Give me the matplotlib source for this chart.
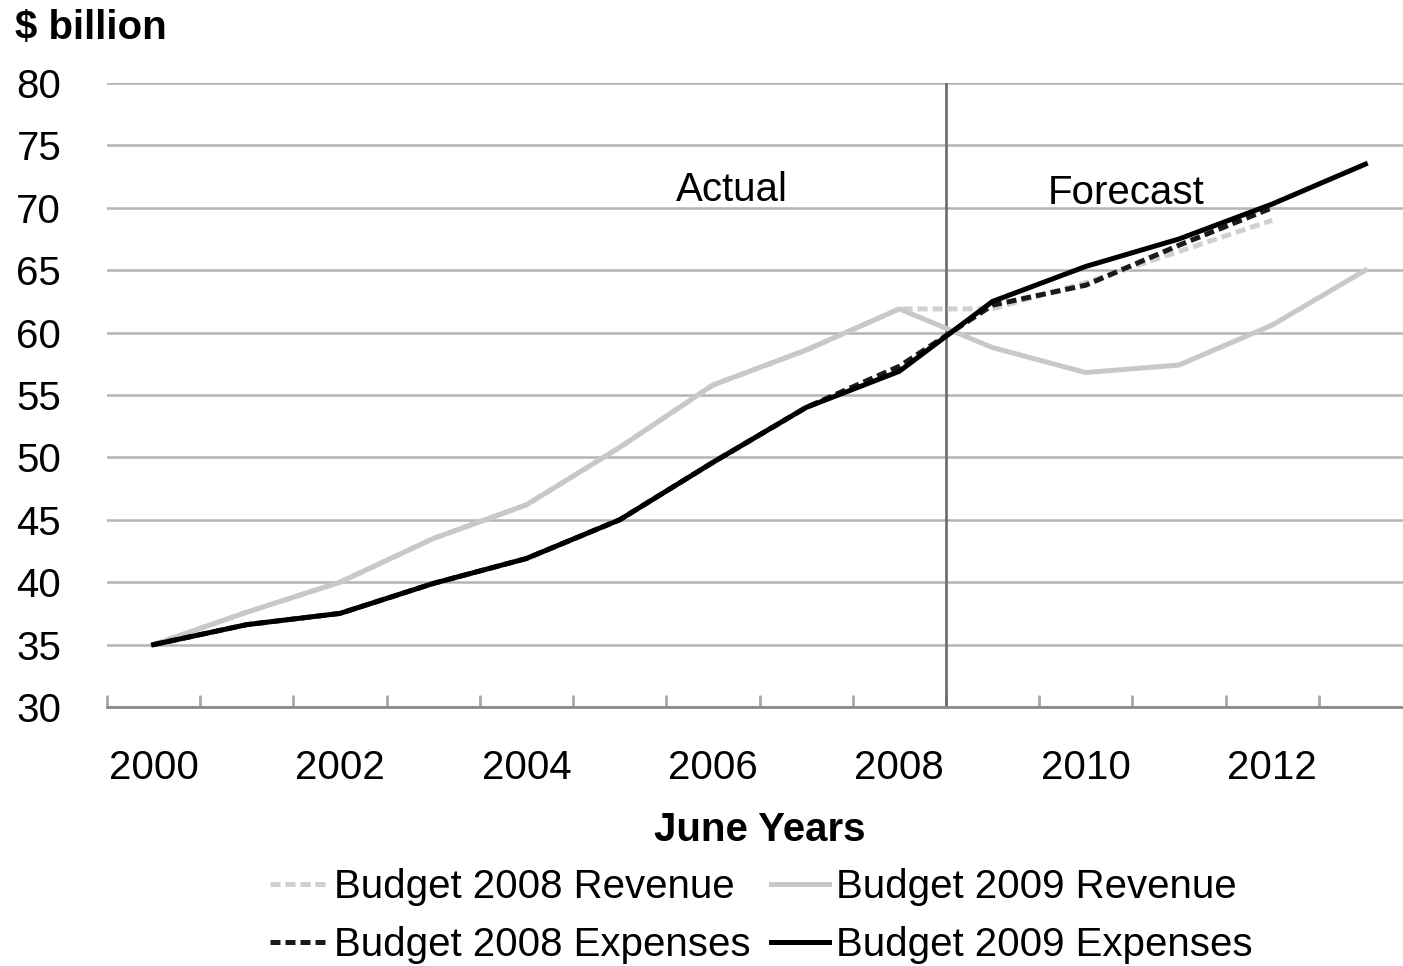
import matplotlib
matplotlib.use("Agg")
import matplotlib.pyplot as plt
import numpy as np

plt.rcParams['font.family'] = ['Liberation Sans', 'DejaVu Sans']

# June years shown on the category axis
years = list(range(2000, 2014))
tick_years = [2000, 2002, 2004, 2006, 2008, 2010, 2012]

# Budget 2009 series (actuals to 2008, forecast thereafter), $ billion
rev_2009 = [35.0, 37.6, 40.0, 43.5, 46.2, 50.8, 55.8, 58.6, 61.9,
            58.8, 56.8, 57.4, 60.6, 65.0]
exp_2009 = [35.0, 36.6, 37.5, 39.9, 41.9, 45.0, 49.6, 54.0, 56.9,
            62.5, 65.3, 67.5, 70.3, 73.5]

# Budget 2008 series (actuals to 2007, forecast to 2012), $ billion
years_2008 = list(range(2000, 2013))
rev_2008 = [35.0, 37.6, 40.0, 43.5, 46.2, 50.8, 55.8, 58.6, 61.9,
            61.9, 64.0, 66.5, 69.0]
exp_2008 = [35.0, 36.6, 37.5, 39.9, 41.9, 45.0, 49.6, 54.0, 57.3,
            62.2, 63.8, 67.0, 70.0]

boundary = 2008.5  # split between actual and forecast years

W, H = 1403, 966
fig = plt.figure(figsize=(W / 100, H / 100), dpi=100)
ax = fig.add_axes([107 / W, 1 - 707 / H, (1412 - 107) / W, (707 - 83) / H])

light = '#c8c8c8'
dark = '#000000'
lw = 3.6

ax.set_xlim(1999.5, 2013.5)
ax.set_ylim(30, 80)
ax.set_yticks(np.arange(30, 81, 5))
ax.grid(axis='y', color='#b4b4b4', linewidth=1.8, zorder=0)
ax.set_axisbelow(True)

ax.axvline(boundary, color='#6a6a6a', linewidth=1.9, zorder=1)

l_rev08, = ax.plot(years_2008, rev_2008, color='#d0d0d0', linewidth=lw,
                   linestyle=(0, (2, 1)), label='Budget 2008 Revenue',
                   zorder=2)
l_rev09, = ax.plot(years, rev_2009, color=light, linewidth=lw,
                   label='Budget 2009 Revenue', zorder=3)
l_exp08, = ax.plot(years_2008, exp_2008, color='#1a1a1a', linewidth=lw,
                   linestyle=(0, (2, 1)), label='Budget 2008 Expenses',
                   zorder=4)
l_exp09, = ax.plot(years, exp_2009, color=dark, linewidth=lw,
                   label='Budget 2009 Expenses', zorder=5)

for s in ('left', 'right', 'top'):
    ax.spines[s].set_visible(False)
ax.spines['bottom'].set_color('#8a8a8a')
ax.spines['bottom'].set_linewidth(2.0)

# category boundaries as inward tick marks, labels every other year
ax.set_xticks(tick_years)
ax.set_xticklabels([str(y) for y in tick_years])
ax.set_xticks(np.arange(1999.5, 2013.6, 1.0), minor=True)
ax.tick_params(axis='x', which='major', length=0, pad=30, labelsize=29)
ax.tick_params(axis='x', which='minor', direction='in', length=9,
               width=2.0, color='#a8a8a8')
ax.tick_params(axis='y', length=0, pad=33, labelsize=29)

ax.text(2006.2, 71.4, 'Actual', fontsize=29, ha='center', va='center')
ax.text(2010.43, 71.2, 'Forecast', fontsize=29, ha='center', va='center')

fig.text(15 / W, 1 - 28 / H, '$ billion', fontsize=29, fontweight='bold',
         ha='left', va='center')
fig.text(760 / W, 1 - 830 / H, 'June Years', fontsize=29,
         fontweight='bold', ha='center', va='center')

# column-major fill: revenue row on top, expenses row below
fig.legend([l_rev08, l_exp08, l_rev09, l_exp09],
           [h.get_label() for h in (l_rev08, l_exp08, l_rev09, l_exp09)],
           ncol=2, frameon=False, fontsize=29,
           loc='center', bbox_to_anchor=(761 / W, 1 - 916 / H),
           handlelength=1.45, handletextpad=0.15, columnspacing=0.5,
           labelspacing=0.5, borderpad=0, borderaxespad=0)

fig.savefig('out.png', dpi=100)
